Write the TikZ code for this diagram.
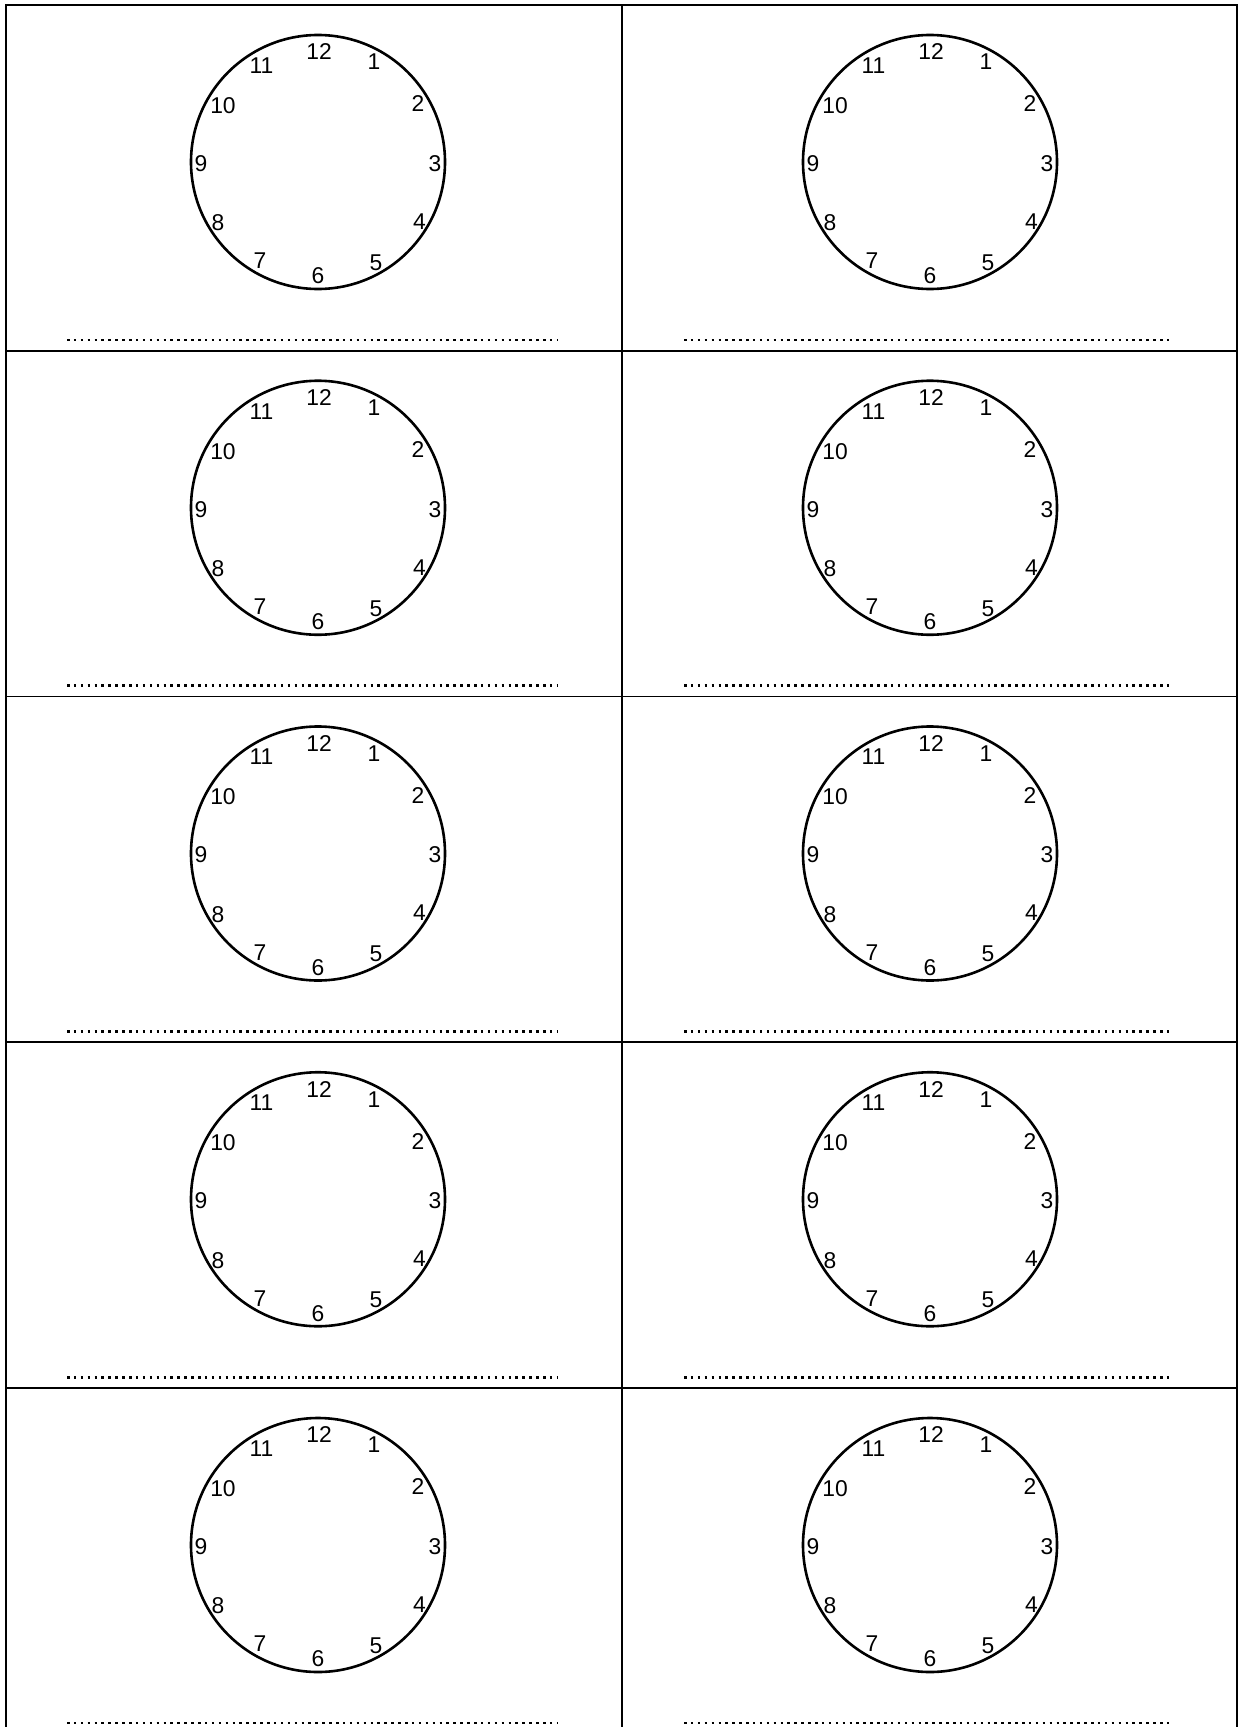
\documentclass[tikz,border=0pt]{standalone}
\usepackage{fontspec}
\setmainfont{Liberation Sans}
\usetikzlibrary{calc}

\tikzset{
  frameline/.style={line width=1.7*0.02cm, black},
  clockface/.style={line width=2.6*0.02cm, black},
  clocknum/.style={font=\fontsize{13}{14}\selectfont, inner sep=0pt},
  writeline/.style={line width=2.6*0.02cm, dash pattern=on 0.05cm off 0.088cm}
}

\begin{document}
\begin{tikzpicture}[x=0.02cm, y=-0.02cm]
      % 1. 畫面大小 (像素座標, y 向下)
      \useasboundingbox (0,0) rectangle (1239,1727);
      \clip (0,0) rectangle (1239,1727);

      % 2. 表格框線
      \draw[frameline] (6,1740) -- (6,5) -- (1237,5) -- (1237,1740);
      \draw[frameline] (622,5) -- (622,1740);
      \foreach \r in {1,...,4}
        \draw[frameline] (6,5+345.75*\r) -- (1237,5+345.75*\r);

      % 3. 每格一個時鐘和一條書寫虛線
      \foreach \r in {0,...,4}{
        \foreach \c in {0,1}{
          \coordinate (O-\r-\c) at (318+612*\c, 162+345.75*\r);
          \draw[clockface] (O-\r-\c) circle (127);
          % 數字 1--12
          \foreach \k/\dx/\dy in {12/1/-110, 1/56/-100, 2/100/-58, 3/117/1.5,
                                  4/101.5/59.5, 5/58/100.5, 6/0/114, 7/-58/99,
                                  8/-100/61, 9/-117/1.5, 10/-95/-56.5, 11/-56.5/-96.5}
            \node[clocknum] (n-\r-\c-\k) at ($(O-\r-\c)+(\dx,\dy)$) {\k};
          % 書寫線
          \coordinate (L-\r-\c) at (67+617*\c, 340+345.75*\r);
          \coordinate (R-\r-\c) at (558+615*\c, 340+345.75*\r);
          \draw[writeline] (L-\r-\c) -- (R-\r-\c);
        }
      }
\end{tikzpicture}
\end{document}
